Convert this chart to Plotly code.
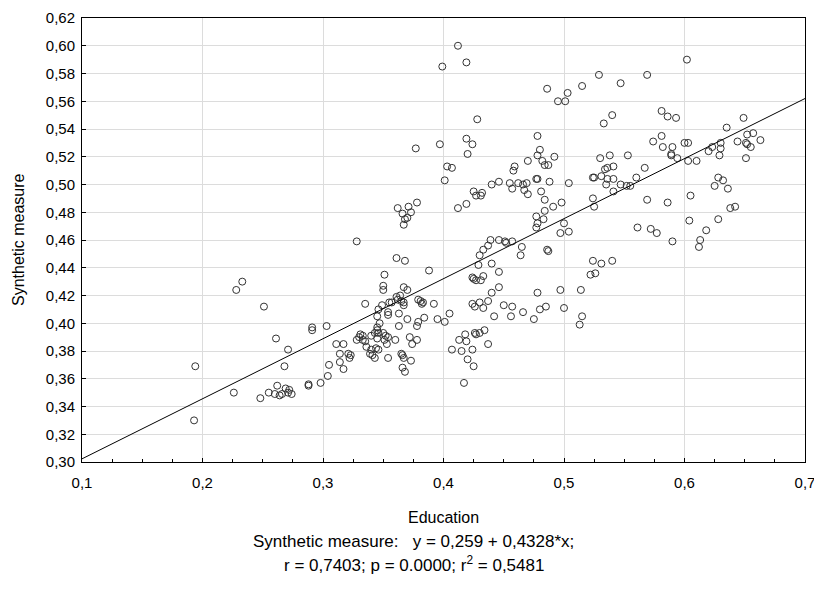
import plotly.graph_objects as go

# ---- data ----
edu_a = [0.233,0.228,0.251,0.291,0.291,0.303,0.261,0.271,0.194,0.268,0.305,0.304,0.262,0.269,0.272,0.288,0.288,0.298,0.226,0.255,0.260,0.264,0.266,0.271,0.274,0.248,0.193]
syn_a = [0.430,0.424,0.412,0.397,0.395,0.398,0.389,0.381,0.369,0.369,0.370,0.362,0.355,0.353,0.352,0.356,0.355,0.357,0.350,0.350,0.349,0.348,0.349,0.350,0.349,0.346,0.330]

edu_b = [0.403,0.407,0.401,0.425,0.427,0.419,0.412,0.378,0.362,0.371,0.366,0.373,0.368,0.370,0.367,0.328,0.361,0.368,0.430,0.388,0.351,0.350,0.350,0.367,0.370,0.424,0.425,0.427,0.429]
syn_b = [0.513,0.512,0.503,0.495,0.492,0.486,0.483,0.487,0.483,0.484,0.479,0.480,0.475,0.476,0.471,0.459,0.447,0.445,0.449,0.438,0.435,0.427,0.424,0.426,0.424,0.433,0.432,0.431,0.442]

edu_c = [0.412,0.419,0.399,0.428,0.419,0.424,0.420,0.397,0.377]
syn_c = [0.600,0.588,0.585,0.547,0.533,0.529,0.522,0.529,0.526]

edu_d = [0.486,0.495,0.501,0.503,0.515,0.529,0.547,0.540,0.533,0.478,0.480,0.478,0.492,0.470,0.482,0.530,0.538,0.553]
syn_d = [0.569,0.560,0.560,0.566,0.571,0.579,0.573,0.550,0.544,0.535,0.525,0.521,0.520,0.517,0.517,0.519,0.521,0.521]

edu_e = [0.602,0.569,0.581,0.586,0.593,0.649,0.635,0.581,0.574,0.582,0.590,0.589,0.589,0.600,0.603,0.594,0.603,0.610,0.620,0.623,0.630,0.630,0.629,0.644,0.652,0.657,0.663,0.651,0.652,0.655,0.651]
syn_e = [0.590,0.579,0.553,0.549,0.548,0.548,0.541,0.535,0.531,0.527,0.527,0.522,0.521,0.530,0.530,0.519,0.517,0.517,0.524,0.527,0.530,0.526,0.521,0.531,0.536,0.537,0.532,0.530,0.529,0.527,0.519]

edu_f = [0.567,0.560,0.555,0.628,0.632,0.625,0.636,0.605,0.569,0.586,0.638,0.642,0.604,0.628,0.561,0.572,0.577,0.618,0.590,0.613,0.612]
syn_f = [0.512,0.505,0.499,0.505,0.503,0.499,0.497,0.492,0.489,0.487,0.483,0.484,0.474,0.475,0.469,0.468,0.465,0.467,0.459,0.460,0.455]

edu_g = [0.459,0.458,0.484,0.487,0.440,0.446,0.455,0.457,0.462,0.466,0.469,0.467,0.470,0.477,0.478,0.488,0.481,0.484,0.498,0.504,0.491,0.484,0.477,0.478,0.477,0.483,0.500,0.497,0.504]
syn_g = [0.513,0.510,0.514,0.514,0.500,0.502,0.501,0.497,0.501,0.500,0.501,0.496,0.493,0.504,0.504,0.502,0.495,0.489,0.487,0.501,0.484,0.481,0.477,0.472,0.469,0.475,0.472,0.465,0.466]

edu_h = [0.524,0.525,0.531,0.534,0.536,0.541,0.536,0.541,0.535,0.547,0.552,0.541,0.524,0.525]
syn_h = [0.505,0.505,0.506,0.511,0.512,0.513,0.504,0.504,0.500,0.500,0.499,0.495,0.490,0.484]

edu_i = [0.432,0.431,0.439,0.446,0.451,0.452,0.457,0.437,0.433,0.440,0.465,0.464,0.486,0.487,0.446,0.433,0.431,0.446,0.440,0.478,0.497,0.514,0.524,0.531,0.540,0.522,0.526]
syn_i = [0.494,0.492,0.460,0.460,0.459,0.458,0.459,0.456,0.453,0.443,0.455,0.449,0.453,0.452,0.437,0.434,0.431,0.426,0.422,0.422,0.424,0.424,0.445,0.443,0.445,0.435,0.436]

edu_j = [0.335,0.361,0.364,0.362,0.365,0.367,0.367,0.349,0.355,0.357,0.346,0.354,0.354,0.379,0.381,0.383,0.382,0.392,0.405,0.363,0.345]
syn_j = [0.414,0.419,0.420,0.417,0.416,0.415,0.413,0.413,0.415,0.415,0.410,0.408,0.406,0.417,0.416,0.415,0.414,0.414,0.407,0.407,0.405]

edu_k = [0.347,0.345,0.345,0.363,0.370,0.379,0.378,0.384,0.395,0.401,0.331,0.333,0.330,0.328,0.333,0.340,0.343,0.346,0.350,0.352,0.354,0.351,0.345,0.353,0.360,0.372,0.378,0.374]
syn_k = [0.400,0.397,0.395,0.398,0.403,0.401,0.398,0.404,0.403,0.401,0.392,0.391,0.390,0.388,0.388,0.391,0.393,0.393,0.393,0.391,0.390,0.388,0.389,0.385,0.388,0.390,0.388,0.385]

edu_l = [0.311,0.317,0.335,0.336,0.340,0.344,0.346,0.339,0.341,0.343,0.314,0.321,0.323,0.322,0.314,0.317,0.354,0.365,0.366,0.367,0.373,0.366,0.368]
syn_l = [0.385,0.385,0.387,0.383,0.381,0.382,0.381,0.378,0.377,0.375,0.378,0.378,0.377,0.375,0.372,0.367,0.375,0.378,0.377,0.375,0.373,0.368,0.365]

edu_m = [0.417,0.424,0.426,0.413,0.418,0.419,0.426,0.427,0.407,0.415,0.424,0.420,0.425]
syn_m = [0.357,0.414,0.412,0.388,0.392,0.387,0.393,0.392,0.381,0.380,0.381,0.374,0.369]

edu_n = [0.430,0.433,0.437,0.450,0.457,0.442,0.456,0.466,0.475,0.480,0.485,0.500,0.515,0.513,0.434,0.430,0.437]
syn_n = [0.415,0.411,0.416,0.413,0.412,0.405,0.405,0.408,0.403,0.410,0.412,0.411,0.405,0.399,0.395,0.393,0.385]

education = edu_a + edu_b + edu_c + edu_d + edu_e + edu_f + edu_g + edu_h + edu_i + edu_j + edu_k + edu_l + edu_m + edu_n
synthetic = syn_a + syn_b + syn_c + syn_d + syn_e + syn_f + syn_g + syn_h + syn_i + syn_j + syn_k + syn_l + syn_m + syn_n

intercept = 0.259
slope = 0.4328
x_range = [0.1, 0.7]
y_range = [0.30, 0.62]

FONT = "Liberation Sans, Arial, sans-serif"

fig = go.Figure()
fig.add_trace(go.Scatter(
    x=education, y=synthetic, mode="markers",
    marker=dict(symbol="circle-open", size=7, color="#333333", line=dict(width=1)),
    showlegend=False, hoverinfo="x+y"))
fig.add_trace(go.Scatter(
    x=x_range, y=[intercept + slope * v for v in x_range], mode="lines",
    line=dict(color="black", width=1), showlegend=False, hoverinfo="skip"))

axis_common = dict(
    showgrid=True, gridcolor="#dcdcdc", gridwidth=1,
    showline=True, linecolor="black", linewidth=1, mirror=True,
    ticks="inside", ticklen=4, tickcolor="black", zeroline=False,
    automargin=False, ticklabeloverflow="allow",
    tickfont=dict(family=FONT, size=15, color="black"),
)
fig.update_xaxes(range=x_range, dtick=0.1, tick0=0.1, tickformat=".1f", ticklabelstandoff=7,
                 minor=dict(ticks="inside", ticklen=3, dtick=0.025, tickcolor="black", showgrid=False),
                 **axis_common)
fig.update_yaxes(range=y_range, dtick=0.02, tick0=0.30, tickformat=".2f", ticklabelstandoff=3,
                 **axis_common)

# the page body adds an 8 px offset, so the figure is 8 px smaller than the window
nb = "\u00a0"
fig.update_layout(
    width=814, height=590,
    margin=dict(l=74, r=17, t=10, b=136),
    paper_bgcolor="white", plot_bgcolor="white",
    separators=", ",
    font=dict(family=FONT, size=15, color="black"),
    annotations=[
        dict(text="Education", xref="paper", yref="paper", x=0.5, y=-0.124,
             xanchor="center", yanchor="middle", showarrow=False, font=dict(size=16)),
        dict(text="Synthetic measure:" + nb * 3 + "y = 0,259 + 0,4328*x;", xref="paper", yref="paper",
             x=0.459, y=-0.178, xanchor="center", yanchor="middle", showarrow=False, font=dict(size=17)),
        dict(text="r = 0,7403; p = 0.0000; r<sup>2</sup> = 0,5481", xref="paper", yref="paper",
             x=0.459, y=-0.230, xanchor="center", yanchor="middle", showarrow=False, font=dict(size=17)),
        dict(text="Synthetic measure", xref="paper", yref="paper", x=-0.0885, y=0.5,
             xanchor="center", yanchor="middle", textangle=-90, showarrow=False, font=dict(size=16)),
    ],
)

fig.write_html("out.html")
